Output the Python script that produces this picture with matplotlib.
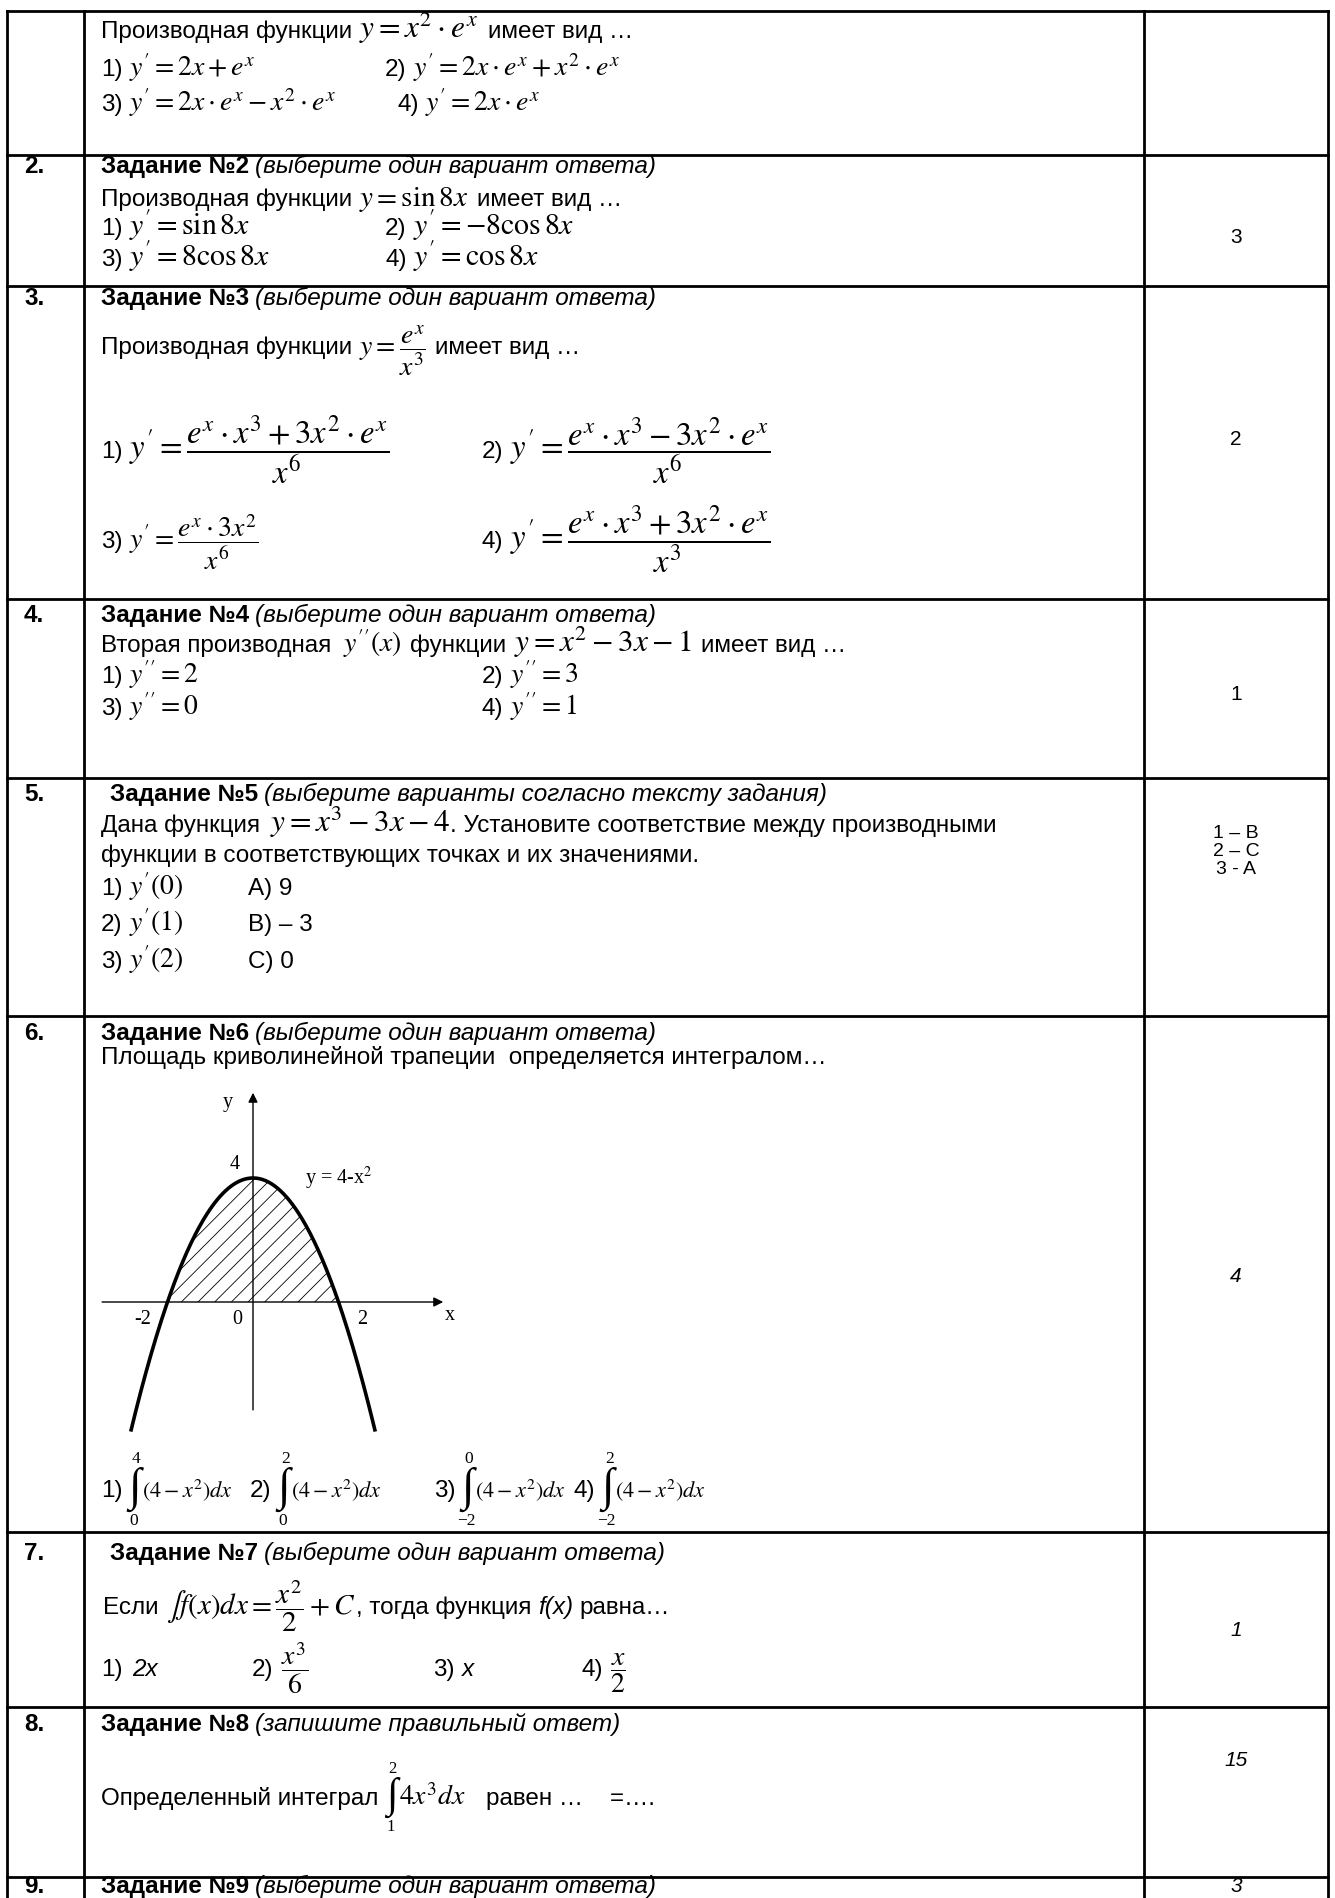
import numpy as np
import matplotlib
matplotlib.use('Agg')
import matplotlib.pyplot as plt

plt.rcParams['font.family'] = ['Liberation Sans', 'DejaVu Sans']
plt.rcParams['mathtext.fontset'] = 'stix'
plt.rcParams['hatch.linewidth'] = 0.6

# ---------------- data ----------------
row_numbers = ['', '2.', '3.', '4.', '5.', '6.', '7.', '8.', '9.']
task_titles = ['', 'Задание №2', 'Задание №3', 'Задание №4', 'Задание №5',
               'Задание №6', 'Задание №7', 'Задание №8', 'Задание №9']
task_hints = ['', '(выберите один вариант ответа)', '(выберите один вариант ответа)',
              '(выберите один вариант ответа)', '(выберите варианты согласно тексту задания)',
              '(выберите один вариант ответа)', '(выберите один вариант ответа)',
              '(запишите правильный ответ)', '(выберите один вариант ответа)']
answers = ['', '3', '2', '1', ['1 – B', '2 – C', '3 - A'], '4', '1', '15', '3']
answer_italic = [False, False, False, False, False, True, True, True, True]

q_text = 'Производная функции'
q_tail = 'имеет вид …'
q1_func = r'$y = x^2\cdot e^x$'
q1_options = [r"$y^{\prime} = 2x + e^x$", r"$y^{\prime} = 2x\cdot e^x + x^2\cdot e^x$",
              r"$y^{\prime} = 2x\cdot e^x - x^2\cdot e^x$", r"$y^{\prime} = 2x\cdot e^x$"]
q2_func = r'$y = \sin 8x$'
q2_options = [r"$y^{\prime} = \sin 8x$", r"$y^{\prime} = -8\cos 8x$",
              r"$y^{\prime} = 8\cos 8x$", r"$y^{\prime} = \cos 8x$"]
q3_func = r'$y = \dfrac{e^x}{x^3}$'
q3_options = [r"$y^{\prime} = \dfrac{e^x\cdot x^3 + 3x^2\cdot e^x}{x^6}$",
              r"$y^{\prime} = \dfrac{e^x\cdot x^3 - 3x^2\cdot e^x}{x^6}$",
              r"$y^{\prime} = \dfrac{e^x\cdot 3x^2}{x^6}$",
              r"$y^{\prime} = \dfrac{e^x\cdot x^3 + 3x^2\cdot e^x}{x^3}$"]
q4_lead = 'Вторая производная'
q4_derivative = r"$y^{\prime\prime}(x)$"
q4_mid = 'функции'
q4_func = r"$y = x^2 - 3x - 1$"
q4_options = [r"$y^{\prime\prime} = 2$", r"$y^{\prime\prime} = 3$",
              r"$y^{\prime\prime} = 0$", r"$y^{\prime\prime} = 1$"]
q5_lead = 'Дана функция'
q5_func = r"$y = x^3 - 3x - 4$"
q5_line1 = '. Установите соответствие между производными'
q5_line2 = 'функции в соответствующих точках и их значениями.'
q5_points = [r"$y^{\prime}(0)$", r"$y^{\prime}(1)$", r"$y^{\prime}(2)$"]
q5_values = ['A) 9', 'B) – 3', 'C) 0']
q6_text = 'Площадь криволинейной трапеции  определяется интегралом…'
q6_upper = ['4', '2', '0', '2']
q6_lower = ['0', '0', '−2', '−2']
q6_integrand = r"$(4 - x^2)dx$"
q7_lead = 'Если'
q7_equation = r"$\int f(x)dx = \dfrac{x^2}{2} + C$"
q7_tail = ', тогда функция'
q7_func = 'f(x)'
q7_end = 'равна…'
q7_options = ['2x', r'$\dfrac{x^3}{6}$', 'x', r'$\dfrac{x}{2}$']
q8_lead = 'Определенный интеграл'
q8_upper, q8_lower = '2', '1'
q8_integrand = r"$4x^3dx$"
q8_tail = 'равен …    =….'

# graph of the curvilinear trapezoid y = 4 - x^2
graph_label = r'y = 4-x$^2$'
graph_tick_values = [-2, 0, 2]
graph_top_value = 4
curve_x = np.linspace(-2.86, 2.86, 241)
curve_y = 4 - curve_x ** 2

# ---------------- layout ----------------
W, H = 1335, 1898
ROW_EDGES = [11, 155, 286, 599, 778, 1016, 1532, 1707, 1877]
X_LEFT, X_NUM, X_ANS, X_RIGHT = 7, 84, 1144, 1328
X_TXT = 101
FS = 17.5     # body text
FM = 20       # formulas
FB = 22.5     # large formulas
FA = 15       # answers
PX = 100 / 72
SERIF = ['Liberation Serif', 'DejaVu Serif']

fig = plt.figure(figsize=(W / 100, H / 100), dpi=100)
ax = fig.add_axes([0, 0, 1, 1])
ax.set_xlim(0, W)
ax.set_ylim(H, 0)
ax.axis('off')
R = fig.canvas.get_renderer()

BOLD = dict(fontweight='bold')
ITAL = dict(fontstyle='italic')


def put(x, y, s, size, **kw):
    kw.setdefault('va', 'baseline')
    kw.setdefault('ha', 'left')
    return ax.text(x, y, s, fontsize=size, color='black', **kw)


def width(t):
    return t.get_window_extent(R).width


def run(x, y, parts):
    for part in parts:
        s, size = part[0], part[1]
        kw = part[2] if len(part) > 2 else {}
        gap = part[3] if len(part) > 3 else 0.3
        t = put(x, y, s, size, **kw)
        x += width(t) + gap * size * PX
    return x


def integral(x, yc, upper, lower, size, lim_size):
    t = put(x, yc, '∫', size, va='center', family=SERIF)
    bb = t.get_window_extent(R)
    top, bot = H - bb.y1, H - bb.y0
    put(x + bb.width * 0.6, top + 1, upper, lim_size, family=SERIF, ha='center', va='bottom')
    put(x + bb.width * 0.4, bot + 1, lower, lim_size, family=SERIF, ha='center', va='top')
    return x + bb.width


# table grid
LW = 2.0
for yy in ROW_EDGES:
    ax.plot([X_LEFT, X_RIGHT], [yy, yy], color='black', lw=LW, solid_capstyle='projecting')
for xx in (X_LEFT, X_NUM, X_ANS, X_RIGHT):
    ax.plot([xx, xx], [ROW_EDGES[0], H + 5], color='black', lw=LW, solid_capstyle='projecting')

# row numbers + titles
title_base = [None, 173, 305, 622, 801, 1040, 1560, 1731, 1893]
title_indent = [0, 0, 0, 0, 9, 0, 9, 0, 0]
for i in range(1, 9):
    put(24, title_base[i], row_numbers[i], FS, **BOLD)
    run(X_TXT + title_indent[i], title_base[i],
        [(task_titles[i], FS, BOLD, 0.25), (task_hints[i], FS, ITAL)])

# answers
ans_center = [None, 237, 439, 694, 851, 1276, 1631, 1761, 1887]
for i in range(1, 9):
    a = answers[i]
    kw = ITAL if answer_italic[i] else {}
    if isinstance(a, list):
        for k, line in enumerate(a):
            put((X_ANS + X_RIGHT) / 2, ans_center[i] + (k - 1) * 18, line, FA - 1,
                ha='center', va='center', **kw)
    else:
        put((X_ANS + X_RIGHT) / 2, ans_center[i], a, FA, ha='center', va='center', **kw)

# ---- row 1
run(X_TXT, 38, [(q_text, FS), (q1_func, FB), (q_tail, FS)])
for k, (xx, yy, sz) in enumerate([(X_TXT, 76, FM), (385, 76, FM), (X_TXT, 111, FM), (397, 111, FM)]):
    run(xx, yy, [(f'{k + 1})', FS, {}, 0.25), (q1_options[k], sz)])

# ---- row 2
run(X_TXT, 206, [(q_text, FS), (q2_func, FM + 1), (q_tail, FS)])
for k, (xx, yy) in enumerate([(X_TXT, 235), (385, 235), (X_TXT, 266), (385, 266)]):
    run(xx, yy, [(f'{k + 1})', FS, {}, 0.25), (q2_options[k], FB - 1)])

# ---- row 3
run(X_TXT, 354, [(q_text, FS), (q3_func, FM), (q_tail, FS)])
for k, (xx, yy, sz) in enumerate([(X_TXT, 458, FB + 1), (482, 458, FB + 1),
                                  (X_TXT, 548, FM), (482, 548, FB + 1)]):
    run(xx, yy, [(f'{k + 1})', FS, {}, 0.25), (q3_options[k], sz)])

# ---- row 4
run(X_TXT, 652, [(q4_lead, FS, {}, 0.5), (q4_derivative, FM), (q4_mid, FS), (q4_func, FB), (q_tail, FS)])
for k, (xx, yy) in enumerate([(X_TXT, 683), (482, 683), (X_TXT, 715), (482, 715)]):
    run(xx, yy, [(f'{k + 1})', FS, {}, 0.25), (q4_options[k], FM)])

# ---- row 5
run(X_TXT, 832, [(q5_lead, FS, {}, 0.4), (q5_func, FB, {}, 0.0), (q5_line1, FS)])
put(X_TXT, 862, q5_line2, FS)
for k, yy in enumerate([895, 931, 968]):
    run(X_TXT, yy, [(f'{k + 1})', FS, {}, 0.25), (q5_points[k], FM)])
    put(248, yy, q5_values[k], FS)

# ---- row 6
put(X_TXT, 1064, q6_text, FS)
int_x = [X_TXT, 250, 434, 574]
for k in range(4):
    x = run(int_x[k], 1497, [(f'{k + 1})', FS, {}, 0.25)])
    x = integral(x, 1489, q6_upper[k], q6_lower[k], 33, 12.5)
    put(x + 1, 1497, q6_integrand, 16)

# graph
gx0, gy0 = 253, 1302          # pixel position of the origin
ux, uy = 42.75, 31.0          # pixels per unit
lp, rp, tp, bp = 90, 470, 1075, 1445
ax2 = fig.add_axes([lp / W, 1 - bp / H, (rp - lp) / W, (bp - tp) / H])
ax2.set_xlim((lp - gx0) / ux, (rp - gx0) / ux)
ax2.set_ylim((gy0 - bp) / uy, (gy0 - tp) / uy)
ax2.axis('off')
mask = (curve_x >= graph_tick_values[0]) & (curve_x <= graph_tick_values[-1])
ax2.fill_between(curve_x[mask], 0, curve_y[mask], facecolor='none', edgecolor='black',
                 hatch='//', linewidth=0)
ax2.plot(curve_x, curve_y, color='black', lw=2.6, solid_capstyle='butt')
arrow = dict(arrowstyle='-|>', color='black', lw=1.0, mutation_scale=14, shrinkA=0, shrinkB=0)
ax2.annotate('', xy=(4.45, 0), xytext=(-3.53, 0), arrowprops=arrow)
ax2.annotate('', xy=(0, 6.75), xytext=(0, -3.48), arrowprops=arrow)
serif = dict(family=SERIF, fontsize=14.5, color='black')
ax2.text(-0.6, 6.45, 'y', ha='center', va='center', **serif)
ax2.text(4.6, -0.42, 'x', ha='center', va='center', **serif)
ax2.text(-0.42, graph_top_value + 0.45, str(graph_top_value), ha='center', va='center', **serif)
for v, dx in zip(graph_tick_values, [-0.57, -0.37, 0.56]):
    ax2.text(v + dx, -0.55, str(v), ha='center', va='center', **serif)
ax2.text(1.22, 4.0, graph_label, ha='left', va='center', **serif)

# ---- row 7
x = run(X_TXT + 2, 1614, [(q7_lead, FS)])
x = run(x, 1614, [(q7_equation, 21, {}, 0.0), (q7_tail, FS), (q7_func, FS, ITAL, 0.25), (q7_end, FS)])
opt7_x = [X_TXT, 252, 433, 581]
for k in range(4):
    is_math = q7_options[k].startswith('$')
    run(opt7_x[k], 1676, [(f'{k + 1})', FS, {}, 0.4 if k == 0 else 0.3),
                          (q7_options[k], FM if is_math else FS, {} if is_math else ITAL)])

# ---- row 8
x = run(X_TXT, 1805, [(q8_lead, FS, {}, 0.3)])
x = integral(x, 1797, q8_upper, q8_lower, 30, 12)
run(x + 2, 1805, [(q8_integrand, FM, {}, 0.7), (q8_tail, FS)])

fig.savefig('out.png', dpi=100)
